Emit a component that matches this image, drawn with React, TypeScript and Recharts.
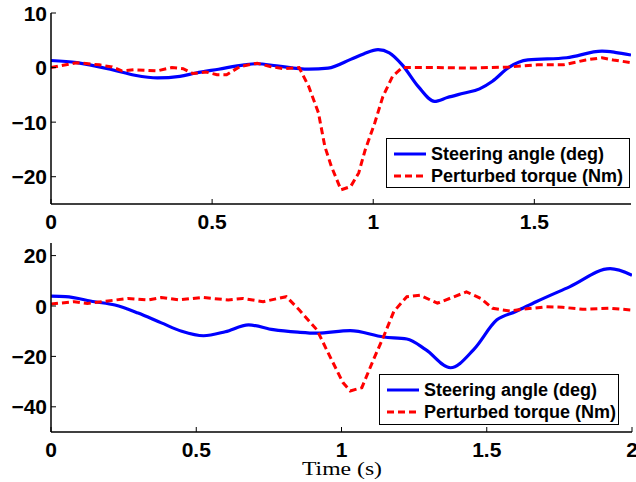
import { LineChart, Line, XAxis, YAxis, Legend } from 'recharts'

// top panel (0 - 1.8 s)
const TOP_STEER_T = [0, 0.08, 0.19, 0.26, 0.33, 0.4, 0.45, 0.52, 0.6, 0.64, 0.7, 0.8, 0.86, 0.93, 0.97, 1.015, 1.05, 1.09, 1.14, 1.19, 1.23, 1.28, 1.33, 1.37, 1.42, 1.48, 1.6, 1.71, 1.75, 1.8]
const TOP_STEER = [1.3, 0.9, -0.4, -1.4, -1.9, -1.6, -1.0, -0.3, 0.5, 0.7, 0.3, -0.3, -0.1, 1.5, 2.5, 3.3, 2.7, 0.5, -3.5, -6.2, -5.5, -4.7, -3.9, -2.5, 0.0, 1.4, 1.8, 3.0, 2.8, 2.3]
const TOP_TORQUE_T = [0, 0.08, 0.15, 0.19, 0.22, 0.26, 0.33, 0.375, 0.41, 0.44, 0.48, 0.515, 0.545, 0.587, 0.64, 0.68, 0.72, 0.77, 0.8, 0.83, 0.85, 0.87, 0.9, 0.93, 0.955, 0.975, 1.005, 1.03, 1.06, 1.09, 1.2, 1.3, 1.42, 1.51, 1.59, 1.63, 1.66, 1.71, 1.745, 1.8]
const TOP_TORQUE = [0, 0.9, 0.5, 0.1, -0.6, -0.4, -0.6, 0, -0.2, -1.1, -0.8, -1.3, -1.3, 0.2, 0.8, 0.2, -0.2, 0, -3.5, -8.3, -14.5, -18.1, -22.4, -21.8, -19.3, -15.1, -10.1, -5.3, -1.6, 0, 0, -0.1, 0.1, 0.5, 0.5, 1.0, 1.4, 1.8, 1.4, 0.9]
const TOP_X_TICKS = [0, 0.5, 1, 1.5]
const TOP_Y_TICKS = [10, 0, -10, -20]

// bottom panel (0 - 2 s)
const BOT_STEER_T = [0, 0.05, 0.15, 0.22, 0.3, 0.38, 0.45, 0.525, 0.6, 0.68, 0.765, 0.85, 0.915, 1.03, 1.145, 1.225, 1.29, 1.375, 1.455, 1.535, 1.6, 1.67, 1.785, 1.925, 2.0]
const BOT_STEER = [3.9, 3.7, 1.7, 0.4, -2.8, -6.7, -10, -11.8, -10.2, -7.5, -9.4, -10.4, -10.8, -9.8, -12.3, -13.1, -17.3, -24.5, -17.3, -5.5, -2.2, 1.7, 7.6, 14.8, 12.2]
const BOT_TORQUE_T = [0, 0.08, 0.125, 0.175, 0.265, 0.335, 0.38, 0.44, 0.52, 0.61, 0.66, 0.73, 0.81, 0.855, 0.915, 0.96, 1.005, 1.03, 1.07, 1.11, 1.145, 1.18, 1.225, 1.27, 1.33, 1.43, 1.48, 1.52, 1.58, 1.625, 1.705, 1.76, 1.83, 1.925, 2.0]
const BOT_TORQUE = [0.8, 1.7, 1.0, 1.7, 3.0, 2.4, 3.4, 2.4, 3.4, 2.4, 3.0, 1.7, 3.7, -1.6, -9.4, -20, -30.4, -33.7, -32.4, -21.3, -12.1, -2.2, 3.7, 4.3, 1.1, 5.6, 3.0, -0.9, -2.0, -1.3, -0.3, -0.5, -1.3, -0.9, -1.6]
const BOT_X_TICKS = [0, 0.5, 1, 1.5, 2]
const BOT_Y_TICKS = [20, 0, -20, -40]

const SERIES = ['Steering angle (deg)', 'Perturbed torque (Nm)']

const BLUE = '#0000ff'
const RED = '#ff0000'
const FONT = '"Liberation Sans", Arial, Helvetica, sans-serif'
const TICK = 5
const TICK_FONT = 21

const pairs = (t: number[], v: number[]) => t.map((x, i) => ({ t: x, v: v[i] }))
const fmt = (v: number) => (v < 0 ? '\u2212' + Math.abs(v) : String(v))

function BottomTick({ x, y, payload }: any) {
  return (
    <g>
      <line x1={x} x2={x} y1={y} y2={y - TICK} stroke="#000" />
      <text x={x} y={y + 25} textAnchor="middle" fontFamily={FONT} fontWeight="bold" fontSize={TICK_FONT} fill="#000">
        {fmt(payload.value)}
      </text>
    </g>
  )
}

function LeftTick({ x, y, payload }: any) {
  return (
    <g>
      <line x1={x} x2={x + TICK} y1={y} y2={y} stroke="#000" />
      <text x={x - 4} y={y + 7.5} textAnchor="end" fontFamily={FONT} fontWeight="bold" fontSize={TICK_FONT} fill="#000">
        {fmt(payload.value)}
      </text>
    </g>
  )
}

const TopTick = ({ x, y }: any) => <line x1={x} x2={x} y1={y} y2={y + TICK} stroke="#000" />
const RightTick = ({ x, y }: any) => <line x1={x} x2={x - TICK} y1={y} y2={y} stroke="#000" />

function LegendBox({ payload }: any) {
  const items = [...(payload ?? [])].sort((a: any, b: any) => SERIES.indexOf(a.value) - SERIES.indexOf(b.value))
  return (
    <div
      style={{
        border: '1px solid #000',
        background: '#fff',
        boxSizing: 'border-box',
        width: '100%',
        height: '100%',
        padding: '4px 0 0 7px',
      }}
    >
      {items.map((p: any) => (
        <div key={p.value} style={{ display: 'flex', alignItems: 'center', height: 22 }}>
          <svg width={32} height={6}>
            <line
              x1={0} x2={32} y1={3} y2={3}
              stroke={p.color}
              strokeWidth={3}
              strokeDasharray={p.payload?.strokeDasharray}
            />
          </svg>
          <span style={{ marginLeft: 5, fontFamily: FONT, fontWeight: 'bold', fontSize: 18, whiteSpace: 'nowrap', color: '#000' }}>
            {p.value}
          </span>
        </div>
      ))}
    </div>
  )
}

interface PanelProps {
  steer: { t: number; v: number }[]
  torque: { t: number; v: number }[]
  xMax: number
  xTicks: number[]
  yDomain: [number, number]
  yTicks: number[]
  height: number
  xAxisHeight: number
  marginTop: number
  marginRight: number
  legendPos: { left: number; top: number; width: number; height: number }
}

function Panel(p: PanelProps) {
  const axisLine = { stroke: '#000', strokeWidth: 1.5 }
  return (
    <LineChart
      width={636} height={p.height} style={{ overflow: 'visible' }}
      margin={{ top: p.marginTop, right: p.marginRight, bottom: 0, left: 0 }}
    >
      <XAxis
        dataKey="t" type="number" domain={[0, p.xMax]} ticks={p.xTicks} allowDataOverflow
        height={p.xAxisHeight} axisLine={axisLine} tickLine={false} tickSize={0} tickMargin={0}
        tick={(props: any) => <BottomTick {...props} />}
      />
      <XAxis
        xAxisId="top" orientation="top" dataKey="t" type="number" domain={[0, p.xMax]} ticks={p.xTicks}
        allowDataOverflow height={0} axisLine={axisLine} tickLine={false} tickSize={0} tickMargin={0}
        tick={(props: any) => <TopTick {...props} />}
      />
      <YAxis
        type="number" domain={p.yDomain} ticks={p.yTicks} allowDataOverflow width={51}
        axisLine={axisLine} tickLine={false} tickSize={0} tickMargin={0}
        tick={(props: any) => <LeftTick {...props} />}
      />
      <YAxis
        yAxisId="right" orientation="right" type="number" domain={p.yDomain} ticks={p.yTicks}
        allowDataOverflow width={0} axisLine={axisLine} tickLine={false} tickSize={0} tickMargin={0}
        tick={(props: any) => <RightTick {...props} />}
      />
      <Legend
        layout="vertical" align="center" verticalAlign="middle"
        wrapperStyle={{ ...p.legendPos }}
        content={(props: any) => <LegendBox {...props} />}
      />
      <Line
        data={p.steer} dataKey="v" name={SERIES[0]} type="monotone" stroke={BLUE} strokeWidth={3.2}
        dot={false} activeDot={false} isAnimationActive={false}
      />
      <Line
        data={p.torque} dataKey="v" name={SERIES[1]} type="linear" stroke={RED} strokeWidth={3}
        strokeDasharray="7 4" dot={false} activeDot={false} isAnimationActive={false}
      />
    </LineChart>
  )
}

export default function App() {
  return (
    <div style={{ position: 'absolute', left: 0, top: 0, width: 636, height: 482, background: '#fff' }}>
      <div style={{ position: 'absolute', left: 0, top: 0 }}>
        <Panel
          steer={pairs(TOP_STEER_T, TOP_STEER)}
          torque={pairs(TOP_TORQUE_T, TOP_TORQUE)}
          xMax={1.8} xTicks={TOP_X_TICKS} yDomain={[-25, 10]} yTicks={TOP_Y_TICKS}
          height={236} xAxisHeight={32} marginTop={13} marginRight={5}
          legendPos={{ left: 386, top: 138, width: 244, height: 50 }}
        />
      </div>
      <div style={{ position: 'absolute', left: 0, top: 230 }}>
        <Panel
          steer={pairs(BOT_STEER_T, BOT_STEER)}
          torque={pairs(BOT_TORQUE_T, BOT_TORQUE)}
          xMax={2} xTicks={BOT_X_TICKS} yDomain={[-50, 25]} yTicks={BOT_Y_TICKS}
          height={252} xAxisHeight={50} marginTop={13} marginRight={4}
          legendPos={{ left: 379, top: 144, width: 240, height: 51 }}
        />
      </div>
      <svg width={636} height={482} style={{ position: 'absolute', left: 0, top: 0, pointerEvents: 'none' }}>
        <text
          x={302} y={475} fontFamily='"Liberation Serif", "Times New Roman", serif' fontSize={19} fill="#000"
          textLength={80} lengthAdjust="spacingAndGlyphs"
        >
          Time (s)
        </text>
      </svg>
    </div>
  )
}
